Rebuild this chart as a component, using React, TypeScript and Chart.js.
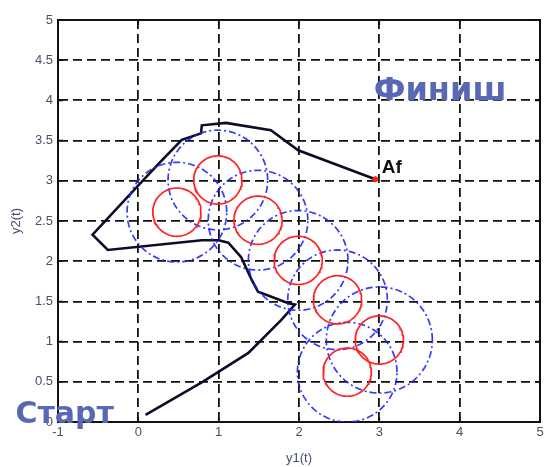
import React, { useEffect, useRef } from "react";
import { Chart, registerables } from "chart.js";

Chart.register(...registerables);

// Axis ranges / ticks
const xRange = [-1, 5];
const yRange = [0, 5];
const xTickStep = 1;
const yTickStep = 0.5;
const xTitle = "y1(t)";
const yTitle = "y2(t)";

// Trajectory (black line), from start to finish
const pathX = [0.09, 0.8, 1.37, 1.78, 1.95, 1.86, 1.49, 1.41, 1.28, 1.12, 1.0, 0.79, -0.38, -0.57, -0.02, 0.26, 0.54, 0.78, 0.79, 1.09, 1.65, 1.99, 2.95];
const pathY = [0.09, 0.5, 0.86, 1.27, 1.46, 1.48, 1.62, 1.77, 2.05, 2.23, 2.26, 2.26, 2.14, 2.33, 2.92, 3.22, 3.51, 3.59, 3.69, 3.72, 3.63, 3.38, 3.02];

// Obstacles: centres, inner (red) and outer (blue dash-dot) radii
const centerX = [0.48, 0.99, 1.49, 1.99, 2.48, 3.0, 2.6];
const centerY = [2.61, 3.01, 2.51, 2.01, 1.52, 1.02, 0.62];
const innerRadius = [0.3, 0.3, 0.3, 0.3, 0.3, 0.3, 0.3];
const outerRadius = [0.62, 0.62, 0.62, 0.62, 0.62, 0.66, 0.62];

// Finish point
const finishX = [2.95];
const finishY = [3.02];

// Annotations (left / baseline in data coordinates)
const noteText = ["Финиш", "Старт", "Af"];
const noteX = [2.93, -1.53, 3.03];
const noteY = [4.0, -0.01, 3.1];
const noteSize = [32, 30, 19];

function circlePoints(cx: number, cy: number, r: number) {
  const pts: { x: number; y: number }[] = [];
  const n = 96;
  for (let i = 0; i <= n; i++) {
    const a = (i / n) * Math.PI * 2;
    pts.push({ x: cx + r * Math.cos(a), y: cy + r * Math.sin(a) });
  }
  return pts;
}

const framePlugin = {
  id: "frame",
  beforeDatasetsDraw(chart: any) {
    const { ctx, chartArea } = chart;
    const { left, right, top, bottom } = chartArea;
    ctx.save();
    ctx.setLineDash([]);
    ctx.strokeStyle = "#111";
    ctx.lineWidth = 2;
    ctx.strokeRect(left, top, right - left, bottom - top);
    ctx.lineWidth = 1.5;
    const xs = chart.scales.x;
    const ys = chart.scales.y;
    ctx.beginPath();
    xs.ticks.forEach((t: any) => {
      const px = xs.getPixelForValue(t.value);
      ctx.moveTo(px, bottom);
      ctx.lineTo(px, bottom - 5);
      ctx.moveTo(px, top);
      ctx.lineTo(px, top + 5);
    });
    ys.ticks.forEach((t: any) => {
      const py = ys.getPixelForValue(t.value);
      ctx.moveTo(left, py);
      ctx.lineTo(left + 5, py);
      ctx.moveTo(right, py);
      ctx.lineTo(right - 5, py);
    });
    ctx.stroke();
    ctx.restore();
  },
};

const notesPlugin = {
  id: "notes",
  afterDraw(chart: any) {
    const { ctx } = chart;
    const xs = chart.scales.x;
    const ys = chart.scales.y;
    ctx.save();
    ctx.textBaseline = "alphabetic";
    ctx.textAlign = "left";
    noteText.forEach((t, i) => {
      const px = xs.getPixelForValue(noteX[i]);
      const py = ys.getPixelForValue(noteY[i]);
      if (t === "Af") {
        ctx.font = `bold ${noteSize[i]}px 'Liberation Sans', Arial, sans-serif`;
        ctx.fillStyle = "#111";
      } else {
        ctx.font = `bold ${noteSize[i]}px 'DejaVu Sans', sans-serif`;
        ctx.fillStyle = "#5868b4";
      }
      ctx.fillText(t, px, py);
    });
    ctx.restore();
  },
};

export default function App() {
  const canvasRef = useRef<HTMLCanvasElement | null>(null);

  useEffect(() => {
    if (!canvasRef.current) return;
    const datasets: any[] = [];

    centerX.forEach((cx, i) => {
      datasets.push({
        data: circlePoints(cx, centerY[i], innerRadius[i]),
        showLine: true,
        borderColor: "rgb(255,35,35)",
        borderWidth: 1.7,
        pointRadius: 0,
        tension: 0,
        order: 1,
      });
    });
    centerX.forEach((cx, i) => {
      datasets.push({
        data: circlePoints(cx, centerY[i], outerRadius[i]),
        showLine: true,
        borderColor: "rgba(30,40,240,0.9)",
        borderWidth: 1.7,
        borderDash: [7, 3, 2, 3],
        pointRadius: 0,
        tension: 0,
        order: 2,
      });
    });
    datasets.push({
      data: pathX.map((x, i) => ({ x, y: pathY[i] })),
      showLine: true,
      borderColor: "#0c0c28",
      borderWidth: 2.6,
      pointRadius: 0,
      tension: 0,
      order: 3,
    });
    datasets.push({
      data: finishX.map((x, i) => ({ x, y: finishY[i] })),
      showLine: false,
      pointRadius: 2.5,
      pointBackgroundColor: "rgb(255,30,30)",
      pointBorderColor: "rgb(255,30,30)",
      order: 0,
    });

    const tickFont = { size: 13, family: "'Liberation Sans', Arial, sans-serif" };
    const labelColor = "#48506a";
    const fmt = (v: any) => String(Number(v));
    const chart = new Chart(canvasRef.current, {
      type: "scatter",
      data: { datasets },
      options: {
        animation: false,
        responsive: false,
        devicePixelRatio: 1,
        layout: { padding: { top: 20, right: 2, left: 0, bottom: 0 } },
        plugins: { legend: { display: false }, tooltip: { enabled: false } },
        scales: {
          x: {
            type: "linear",
            min: xRange[0],
            max: xRange[1],
            ticks: { stepSize: xTickStep, font: tickFont, color: labelColor, padding: 3, callback: fmt },
            grid: { color: "#111", lineWidth: 1.8, drawTicks: false },
            border: { display: true, color: "#111", width: 2, dash: [9, 5] },
            title: {
              display: true,
              text: xTitle,
              font: tickFont,
              color: labelColor,
              padding: { top: 0, bottom: 1 },
            },
            afterFit: (s: any) => {
              s.height = 45;
              s.paddingRight = 0;
              s.paddingLeft = 0;
            },
          },
          y: {
            type: "linear",
            min: yRange[0],
            max: yRange[1],
            ticks: { stepSize: yTickStep, font: tickFont, color: labelColor, padding: 5, callback: fmt },
            grid: { color: "#111", lineWidth: 1.8, drawTicks: false },
            border: { display: true, color: "#111", width: 2, dash: [9, 5] },
            title: {
              display: true,
              text: yTitle,
              font: tickFont,
              color: labelColor,
              padding: { top: 9, bottom: 0 },
            },
            afterFit: (s: any) => {
              s.width = 58;
              s.paddingTop = 0;
              s.paddingBottom = 0;
            },
          },
        },
      },
      plugins: [framePlugin, notesPlugin],
    } as any);
    return () => chart.destroy();
  }, []);

  return (
    <div style={{ position: "absolute", left: 0, top: 0, width: 545, height: 467, background: "#fff" }}>
      <canvas ref={canvasRef} width={545} height={467} style={{ display: "block" }} />
    </div>
  );
}
